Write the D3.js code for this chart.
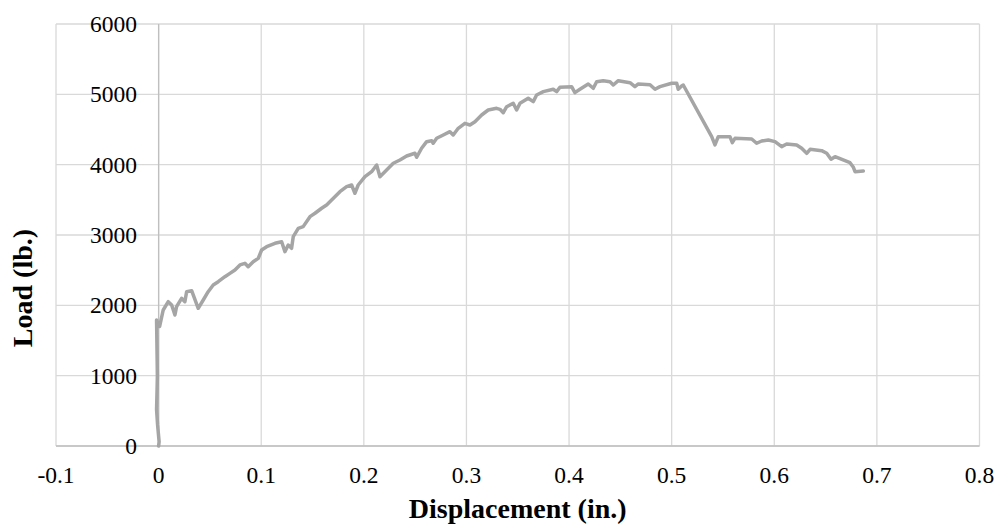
<!DOCTYPE html>
<html>
<head>
<meta charset="utf-8">
<script src="https://cdn.jsdelivr.net/npm/d3@7"></script>
<style>
  html, body { margin: 0; padding: 0; background: #fff; }
  svg { display: block; }
  text { font-family: "Liberation Serif", "Times New Roman", serif; fill: #000; }
</style>
</head>
<body>
<svg id="chart" width="1000" height="529"></svg>
<script>
// Displacement (in.)
const displacement = [
  0.0000, 0.0005, -0.0010, -0.0020, -0.0015, -0.0012, -0.0015, -0.0018, -0.0020,
  0.0010, 0.0045, 0.0094, 0.0127, 0.0159, 0.0175, 0.0224, 0.0256, 0.0273, 0.0322,
  0.0386, 0.0435, 0.0483, 0.0532, 0.0581, 0.0646, 0.0695, 0.0744, 0.0793, 0.0841,
  0.0873, 0.0922, 0.0971, 0.1004, 0.1053, 0.1134, 0.1199, 0.1231, 0.1263, 0.1296,
  0.1312, 0.1361, 0.1409, 0.1475, 0.1524, 0.1589, 0.1637, 0.1686, 0.1767, 0.1832,
  0.1881, 0.1913, 0.1945, 0.2011, 0.2076, 0.2125, 0.2157, 0.2222, 0.2287, 0.2352,
  0.2417, 0.2498, 0.2515, 0.2563, 0.2612, 0.2661, 0.2676, 0.2710, 0.2774, 0.2839,
  0.2871, 0.2920, 0.2985, 0.3034, 0.3083, 0.3148, 0.3212, 0.3294, 0.3327, 0.3359,
  0.3392, 0.3456, 0.3489, 0.3522, 0.3602, 0.3651, 0.3684, 0.3749, 0.3846, 0.3879,
  0.3911, 0.4025, 0.4057, 0.4106, 0.4187, 0.4236, 0.4269, 0.4333, 0.4399, 0.4431,
  0.4480, 0.4594, 0.4642, 0.4675, 0.4789, 0.4838, 0.4886, 0.5000, 0.5049, 0.5064,
  0.5097, 0.5113, 0.5390, 0.5422, 0.5454, 0.5568, 0.5591, 0.5617, 0.5780, 0.5828,
  0.5877, 0.5942, 0.6007, 0.6072, 0.6121, 0.6218, 0.6267, 0.6316, 0.6349, 0.6462,
  0.6511, 0.6553, 0.6592, 0.6738, 0.6771, 0.6787, 0.6868
];
// Load (lb.)
const load = [
  0, 60, 300, 520, 800, 1000, 1300, 1600, 1790,
  1700, 1934, 2052, 2005, 1863, 1981, 2100, 2052, 2194, 2208,
  1958, 2076, 2194, 2289, 2336, 2407, 2455, 2502, 2574, 2597,
  2549, 2620, 2668, 2787, 2834, 2882, 2905, 2763, 2858, 2811,
  2976, 3095, 3119, 3261, 3309, 3380, 3427, 3498, 3616, 3687,
  3711, 3593, 3711, 3829, 3900, 3995, 3829, 3924, 4020, 4067,
  4123, 4162, 4105, 4233, 4327, 4341, 4304, 4375, 4422, 4469,
  4422, 4517, 4588, 4564, 4611, 4706, 4777, 4801, 4787, 4739,
  4824, 4873, 4777, 4873, 4944, 4896, 4991, 5038, 5072, 5038,
  5100, 5109, 5024, 5072, 5147, 5086, 5180, 5194, 5180, 5133,
  5194, 5166, 5109, 5147, 5137, 5072, 5109, 5157, 5157, 5072,
  5119, 5133, 4398, 4280, 4398, 4398, 4313, 4375, 4365, 4304,
  4337, 4351, 4327, 4256, 4294, 4280, 4233, 4162, 4219, 4199,
  4162, 4077, 4113, 4028, 3962, 3900, 3910
];
const xTicks = [-0.1, 0, 0.1, 0.2, 0.3, 0.4, 0.5, 0.6, 0.7, 0.8];
const yTicks = [0, 1000, 2000, 3000, 4000, 5000, 6000];
const xTitle = "Displacement (in.)";
const yTitle = "Load (lb.)";

(function () {
const svg = d3.select("#chart");
const pLeft = 56, pRight = 979.5, pTop = 24, pBottom = 446;

const x = d3.scaleLinear().domain([-0.1, 0.8]).range([pLeft, pRight]);
const y = d3.scaleLinear().domain([0, 6000]).range([pBottom, pTop]);

// gridlines
svg.append("g").selectAll("line").data(xTicks).join("line")
  .attr("x1", d => x(d)).attr("x2", d => x(d))
  .attr("y1", pTop).attr("y2", pBottom)
  .attr("stroke", "#d9d9d9").attr("stroke-width", 1.3);
svg.append("g").selectAll("line").data(yTicks).join("line")
  .attr("x1", pLeft).attr("x2", pRight)
  .attr("y1", d => y(d)).attr("y2", d => y(d))
  .attr("stroke", "#d9d9d9").attr("stroke-width", 1.3);

// axis lines
svg.append("line")
  .attr("x1", x(0)).attr("x2", x(0)).attr("y1", pTop).attr("y2", pBottom)
  .attr("stroke", "#bfbfbf").attr("stroke-width", 1.3);
svg.append("line")
  .attr("x1", pLeft).attr("x2", pRight).attr("y1", y(0)).attr("y2", y(0))
  .attr("stroke", "#bfbfbf").attr("stroke-width", 1.3);

// tick labels
const xFmt = d => d === 0 ? "0" : d3.format(".1f")(d).replace("\u2212", "-");
svg.append("g").selectAll("text").data(xTicks).join("text")
  .attr("x", d => x(d)).attr("y", 475)
  .attr("text-anchor", "middle").attr("dominant-baseline", "central")
  .attr("font-size", 23.5)
  .text(xFmt);
svg.append("g").selectAll("text").data(yTicks).join("text")
  .attr("x", 137).attr("y", d => y(d))
  .attr("text-anchor", "end").attr("dominant-baseline", "central")
  .attr("font-size", 23.5)
  .text(d => String(d));

// titles
svg.append("text")
  .attr("x", (pLeft + pRight) / 2).attr("y", 508)
  .attr("text-anchor", "middle").attr("dominant-baseline", "central")
  .attr("font-size", 28).attr("font-weight", "bold")
  .text(xTitle);
svg.append("text")
  .attr("transform", `translate(22.5, 288) rotate(-90)`)
  .attr("text-anchor", "middle").attr("dominant-baseline", "central")
  .attr("font-size", 28).attr("font-weight", "bold")
  .text(yTitle);

// data line
const pts = displacement.map((d, i) => [d, load[i]]);
svg.append("path")
  .datum(pts)
  .attr("fill", "none")
  .attr("stroke", "#a5a5a5")
  .attr("stroke-width", 3.5)
  .attr("stroke-linejoin", "round")
  .attr("stroke-linecap", "round")
  .attr("d", d3.line().x(d => x(d[0])).y(d => y(d[1])));
})();
</script>
</body>
</html>
